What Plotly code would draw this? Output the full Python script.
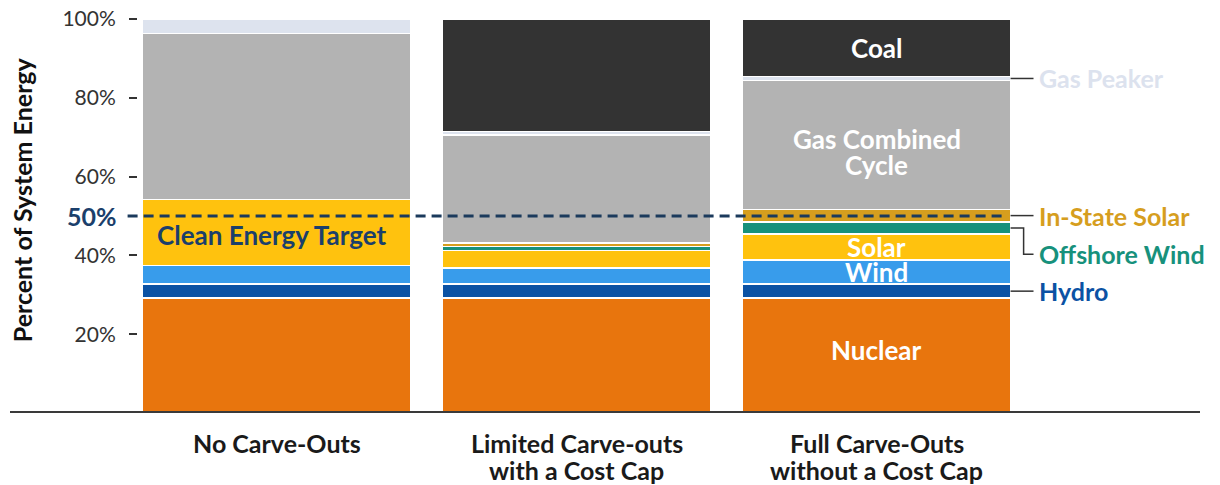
import plotly.graph_objects as go

# ---- data (percent of system energy) ----
categories = ["No Carve-Outs",
              "Limited Carve-outs<br>with a Cost Cap",
              "Full Carve-Outs<br>without a Cost Cap"]
nuclear = [29.15, 29.15, 29.15]
hydro = [3.55, 3.55, 3.55]
wind = [4.7, 4.1, 6.1]
solar = [16.8, 4.5, 6.6]
offshore_wind = [None, 1.0, 3.1]
in_state_solar = [None, 0.9, 3.2]
gas_cc = [42.1, 27.3, 32.7]
gas_peaker = [3.7, 0.9, 1.0]
coal = [None, 28.6, 14.6]
target = 50
y_ticks = [20, 40, 60, 80, 100]
y_tick_text = ["20%", "40%", "60%", "80%", "100%"]

series = [
    ("Nuclear", nuclear, "#E8750D"),
    ("Hydro", hydro, "#0B52A4"),
    ("Wind", wind, "#389CEB"),
    ("Solar", solar, "#FFC20E"),
    ("Offshore Wind", offshore_wind, "#17917C"),
    ("In-State Solar", in_state_solar, "#D69E1E"),
    ("Gas Combined Cycle", gas_cc, "#B3B3B3"),
    ("Gas Peaker", gas_peaker, "#DDE3EE"),
    ("Coal", coal, "#333333"),
]

FONT = "Lato"
OFF = 8  # the page's default body margin
W, HGT = 1220 - OFF, 485 - OFF
YMAX = 100.5
PX_PER = 3.945
PLOT_L, PLOT_R, PLOT_B = 10 - OFF, 1200 - OFF, 413 - OFF
PLOT_T = PLOT_B - YMAX * PX_PER
PW = PLOT_R - PLOT_L
H = PLOT_B - PLOT_T

fig = go.Figure()
for name, vals, col in series:
    fig.add_trace(go.Bar(
        x=categories, y=vals, name=name, width=0.893,
        marker=dict(color=col, line=dict(color="white", width=1.5)),
        showlegend=False, hoverinfo="skip"))

# cumulative bounds for the third bar
def bounds(idx):
    lo = 0
    out = {}
    for name, vals, col in series:
        v = vals[idx] or 0
        out[name] = (lo, lo + v)
        lo += v
    return out

b3 = bounds(2)
mid = lambda n: (b3[n][0] + b3[n][1]) / 2

annotations = []
def inside(text, y, color="white", x=2, size=26):
    annotations.append(dict(x=x, y=y, xref="x", yref="y", text=text, showarrow=False,
                            font=dict(family=FONT, size=size, color=color, weight="bold")))

inside("Coal", mid("Coal"))
gmid = mid("Gas Combined Cycle") - 1.9
inside("Gas Combined", gmid + 3.3)
inside("Cycle", gmid - 3.3)
inside("Solar", mid("Solar"))
inside("Wind", mid("Wind"))
inside("Nuclear", mid("Nuclear") + 1.5)
annotations.append(dict(x=0, y=target - 4.8, xref="x", yref="y", xshift=-5,
                        text="Clean Energy Target", showarrow=False,
                        font=dict(family=FONT, size=26, color="#1B3F6B", weight="bold")))

# right-side labels with leader lines
edge = 2 + 0.893 / 2
lx = 2.523
shapes = []
def leader(ys, xs):
    path = "M " + " L ".join(f"{x},{y}" for x, y in zip(xs, ys))
    shapes.append(dict(type="path", path=path, xref="x", yref="y",
                       line=dict(color="#333333", width=1.5)))

def side_label(text, y, color):
    annotations.append(dict(x=lx, y=y, xref="x", yref="y", text=text, showarrow=False,
                            xanchor="left", xshift=3,
                            font=dict(family=FONT, size=25, color=color, weight="bold")))

yp = mid("Gas Peaker")
leader([yp, yp], [edge, lx]); side_label("Gas Peaker", yp, "#DCE2EE")
yi = mid("In-State Solar")
leader([yi, yi], [edge, lx]); side_label("In-State Solar", yi, "#D69E1E")
yo = mid("Offshore Wind")
yo_lab = 40.3
leader([yo, yo, yo_lab, yo_lab], [edge, 2.49, 2.49, lx]); side_label("Offshore Wind", yo_lab, "#17917C")
yh = mid("Hydro")
leader([yh, yh], [edge, lx]); side_label("Hydro", yh, "#0B52A4")

# 50% target dashed line
shapes.append(dict(type="line", xref="x", yref="y", x0=-0.497, x1=edge - 0.01, y0=target, y1=target,
                   line=dict(color="#1B3A5C", width=3, dash="10px,6px"), layer="above"))
annotations.append(dict(x=-0.527, y=target, xref="x", yref="y", text="50%", showarrow=False,
                        xanchor="right",
                        font=dict(family=FONT, size=25, color="#1B3F6B", weight="bold")))

# bottom baseline
shapes.append(dict(type="line", xref="paper", yref="y", x0=0, x1=1, y0=0, y1=0,
                   line=dict(color="#3A3A3A", width=4), layer="above"))

# category labels (split onto lines)
for i, cat in enumerate(categories):
    for j, line in enumerate(cat.split("<br>")):
        ypx = 443 + 27 * j - OFF
        annotations.append(dict(x=i, y=-(ypx - PLOT_B) / H, xref="x", yref="paper",
                                text=line, showarrow=False, yanchor="middle",
                                font=dict(family=FONT, size=25, color="#1A1A1A", weight="bold")))

# y-axis title
annotations.append(dict(xref="paper", yref="paper", x=(22 - OFF - PLOT_L) / PW,
                        y=(PLOT_B - (200 - OFF)) / H, xanchor="center", yanchor="middle",
                        text="Percent of System Energy", showarrow=False, textangle=-90,
                        font=dict(family=FONT, size=25, color="#111111", weight="bold")))

fig.update_layout(
    barmode="stack",
    width=W, height=HGT,
    margin=dict(l=PLOT_L, r=W - PLOT_R, t=PLOT_T, b=HGT - PLOT_B, pad=0, autoexpand=False),
    plot_bgcolor="white", paper_bgcolor="white",
    font=dict(family=FONT),
    xaxis=dict(range=[-0.889, 3.078], showgrid=False, zeroline=False,
               showline=False, ticks="", showticklabels=False, automargin=False),
    yaxis=dict(range=[0, YMAX], showgrid=False, zeroline=False, showline=False,
               anchor="free", position=(137 - OFF - PLOT_L) / PW, automargin=False,
               tickvals=y_ticks, ticktext=y_tick_text,
               ticks="outside", ticklen=8, tickwidth=1.5, tickcolor="#333333",
               ticklabelstandoff=9, ticklabeloverflow="allow",
               tickfont=dict(family=FONT, size=21, color="#333333")),
    shapes=shapes,
    annotations=annotations,
)

fig.write_html("out.html")
